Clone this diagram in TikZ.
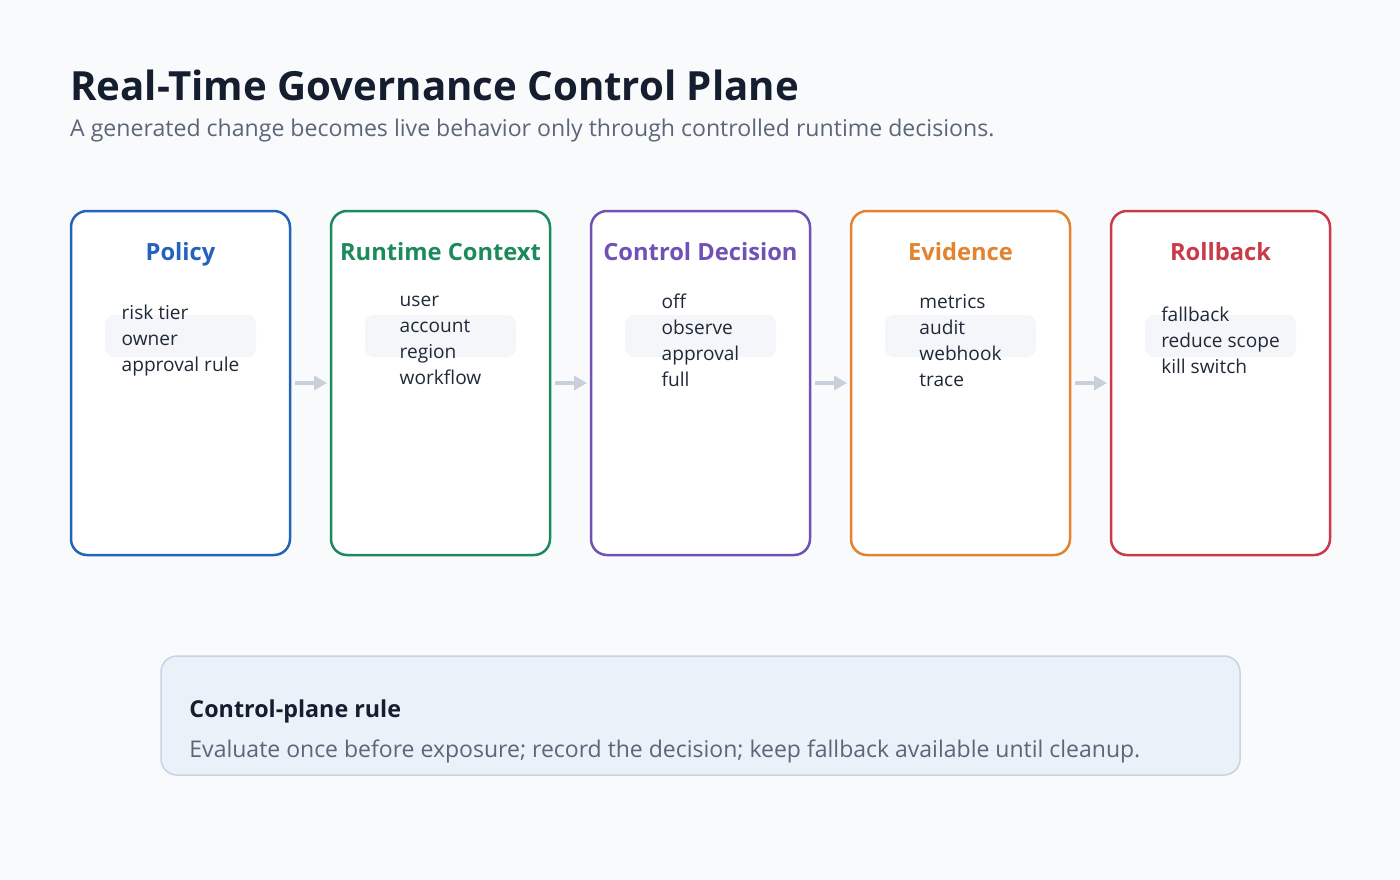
\documentclass[tikz,border=0pt]{standalone}
\usepackage{fontspec}
\setmainfont{Open Sans}
\usetikzlibrary{positioning,arrows.meta}
\definecolor{bg}{HTML}{F8FAFC}
\definecolor{ink}{HTML}{1F2937}
\definecolor{head}{HTML}{141E2E}
\definecolor{muted}{HTML}{5B6678}
\definecolor{cPol}{HTML}{2463BC}
\definecolor{cCtx}{HTML}{1D8A5C}
\definecolor{cDec}{HTML}{7052B4}
\definecolor{cEvi}{HTML}{E2842F}
\definecolor{cRol}{HTML}{C93B4A}
\definecolor{arrowgray}{HTML}{C8D0DB}
\definecolor{band}{HTML}{F4F6FA}
\definecolor{rulefill}{HTML}{EAF1F9}
\definecolor{ruleline}{HTML}{C6D4E4}
\tikzset{
  card/.style={draw=#1,line width=2.5pt,fill=white,rounded corners=16pt,
    minimum width=219pt,minimum height=344pt,inner sep=0pt,outer sep=0pt},
  cardtitle/.style={text=#1,anchor=base,inner sep=0pt,font=\bfseries\fontsize{23.7}{28}\selectfont},
  items/.style={align=left,text=ink,inner sep=0pt,font=\fontsize{19.1}{26}\selectfont},
  band/.style={fill=band,rounded corners=9pt,minimum width=151pt,minimum height=42pt},
  flow/.style={draw=arrowgray,line width=3.5pt,-{Triangle[length=13pt,width=14pt]}}
}
\begin{document}
\begin{tikzpicture}[x=1pt,y=-1pt]
\fill[bg] (0,0) rectangle (1400,880);
\node[anchor=base west,text=head,inner sep=0pt,
  font=\bfseries\fontsize{40.2}{44}\selectfont] (title) at (70,101)
  {Real-Time Governance Control Plane};
\node[anchor=base west,text=muted,inner sep=0pt,
  font=\fontsize{23.1}{27}\selectfont] (subtitle) at (70,136.5)
  {A generated change becomes live behavior only through controlled runtime decisions.};
% the five stages
\node[card=cPol] (pol) at (180.5,383) {};
\node[card=cCtx,right=41pt of pol] (ctx) {};
\node[card=cDec,right=41pt of ctx] (dec) {};
\node[card=cEvi,right=41pt of dec] (evi) {};
\node[card=cRol,right=41pt of evi] (rol) {};
\foreach \n in {pol,ctx,dec,evi,rol}
  \node[band] (\n band) at ([yshift=47pt]\n.center) {};
\node[cardtitle=cPol] (poltitle) at ([yshift=123pt]pol.center) {Policy};
\node[cardtitle=cCtx] (ctxtitle) at ([yshift=123pt]ctx.center) {Runtime Context};
\node[cardtitle=cDec] (dectitle) at ([yshift=123pt]dec.center) {Control Decision};
\node[cardtitle=cEvi] (evititle) at ([yshift=123pt]evi.center) {Evidence};
\node[cardtitle=cRol] (roltitle) at ([yshift=123pt]rol.center) {Rollback};
\node[items] (politems) at ([yshift=42.5pt]pol.center) {risk tier\\owner\\approval rule};
\node[items] (ctxitems) at ([yshift=42.5pt]ctx.center) {user\\account\\region\\workflow};
\node[items] (decitems) at ([yshift=42.5pt]dec.center) {off\\observe\\approval\\full};
\node[items] (evitems) at ([yshift=42.5pt]evi.center) {metrics\\audit\\webhook\\trace};
\node[items] (rolitems) at ([yshift=42.5pt]rol.center) {fallback\\reduce scope\\kill switch};
\foreach \a/\b in {pol/ctx,ctx/dec,dec/evi,evi/rol}
  \draw[flow] ([xshift=5pt]\a.east) -- ([xshift=-4pt]\b.west);
% rule box
\node[draw=ruleline,fill=rulefill,line width=1.5pt,rounded corners=16pt,
  minimum width=1079pt,minimum height=119pt] (rule) at (700.5,715.5) {};
\node[anchor=west,text=head,inner sep=0pt,font=\bfseries\fontsize{23.3}{27}\selectfont]
  (ruletitle) at ([xshift=29pt,yshift=4.5pt]rule.west) {Control-plane rule};
\node[anchor=west,text=muted,inner sep=0pt,font=\fontsize{23}{27}\selectfont]
  (ruletext) at ([xshift=29pt,yshift=-35.5pt]rule.west)
  {Evaluate once before exposure; record the decision; keep fallback available until cleanup.};
\end{tikzpicture}
\end{document}
